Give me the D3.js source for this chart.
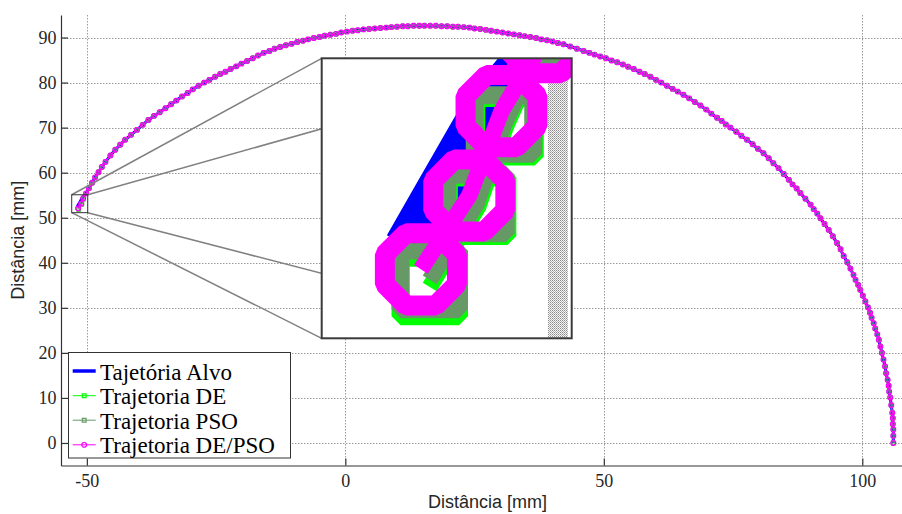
<!DOCTYPE html>
<html>
<head>
<meta charset="utf-8">
<script src="https://cdn.jsdelivr.net/npm/d3@7"></script>
<style>
  html, body { margin: 0; padding: 0; background: #fff; }
  svg { display: block; }
</style>
</head>
<body>
<svg id="chart" width="902" height="514"></svg>
<script>
// ---- data -------------------------------------------------------------
// End-effector trajectory (mm), one entry per sample / marker
const trajX = [
  -51.7,-51.1,-50.7,-50.15,-49.6,-49.0,-48.4,-47.75,-47.1,-46.4,
  -45.45,-44.5,-43.55,-42.6,-41.45,-40.3,-39.2,-38.1,-37.0,-35.9,
  -34.8,-33.7,-32.7,-31.6,-30.5,-29.5,-28.4,-27.3,-26.3,-25.2,
  -24.2,-23.2,-22.2,-21.1,-20.1,-19.0,-17.9,-16.9,-15.8,-14.7,
  -13.7,-12.6,-11.5,-10.4,-9.3,-8.2,-7.2,-6.1,-5.0,-4.0,
  -2.9,-1.8,-0.8,0.3,1.4,2.4,3.5,4.6,5.7,6.8,
  7.9,8.9,10.0,11.1,12.1,13.2,14.3,15.3,16.4,17.5,
  18.6,19.7,20.8,21.8,22.9,24.0,25.0,26.1,27.2,28.2,
  29.3,30.4,31.5,32.6,33.7,34.7,35.8,36.9,37.9,39.0,
  40.1,41.1,42.2,43.5,44.8,46.1,47.2,48.2,49.3,50.4,
  51.5,52.6,53.7,54.7,55.8,56.9,57.9,59.0,60.1,61.1,
  62.2,63.3,64.3,65.4,66.5,67.6,68.7,69.8,70.8,71.9,
  72.8,73.6,74.5,75.6,76.6,77.7,78.8,79.8,80.9,81.9,
  82.8,83.8,84.8,85.8,86.5,87.3,88.0,89.0,90.0,90.6,
  91.3,91.9,92.7,93.5,94.3,95.1,95.8,96.4,97.1,97.7,
  98.3,98.7,99.2,99.6,100.1,100.6,101.1,101.5,101.8,102.2,
  102.5,102.9,103.2,103.5,103.8,104.1,104.4,104.6,104.9,105.1,
  105.2,105.4,105.6,105.8,105.9,105.9,106.0,106.0,106.0
];
const trajY = [
  52.1,53.15,54.35,55.4,56.55,57.75,58.95,60.1,61.25,62.4,
  63.8,65.1,66.2,67.3,68.4,69.5,70.6,71.7,72.6,73.4,
  74.3,75.2,76.0,76.9,77.7,78.5,79.3,80.0,80.6,81.3,
  81.9,82.4,83.0,83.6,84.2,84.8,85.4,86.0,86.6,87.0,
  87.5,87.9,88.3,88.6,89.0,89.3,89.6,89.9,90.1,90.4,
  90.6,90.8,91.1,91.3,91.5,91.6,91.8,91.9,92.0,92.1,
  92.2,92.3,92.4,92.5,92.5,92.6,92.6,92.6,92.6,92.6,
  92.5,92.5,92.4,92.4,92.3,92.2,92.0,91.9,91.7,91.5,
  91.3,91.1,90.9,90.7,90.5,90.3,90.1,89.9,89.6,89.4,
  89.1,88.8,88.5,88.0,87.5,87.0,86.6,86.2,85.8,85.4,
  84.9,84.5,84.0,83.5,83.0,82.4,81.9,81.3,80.6,80.0,
  79.3,78.6,78.0,77.3,76.5,75.7,74.9,74.0,73.1,72.2,
  71.5,70.7,70.0,69.1,68.2,67.3,66.3,65.3,64.3,63.2,
  62.1,61.0,59.7,58.4,57.4,56.5,55.5,54.2,52.9,51.9,
  50.9,49.9,48.6,47.3,45.9,44.4,43.0,41.5,40.1,38.7,
  37.3,36.2,35.1,34.0,32.7,31.4,30.1,28.9,27.8,26.6,
  25.4,24.1,22.9,21.4,20.0,18.5,17.0,15.5,14.0,12.7,
  11.4,10.1,8.4,6.7,5.5,4.2,3.0,1.6,0.0
];

// First samples of each curve, where they separate from one another
const alvoStartX = [-51.87, -51.50, -50.90];
const alvoStartY = [52.42, 53.16, 54.36];
const deStartX   = [-51.59, -50.99, -50.65];
const deStartY   = [51.85, 52.99, 54.12];
const psoStartX  = [-51.59, -51.01, -50.67];
const psoStartY  = [51.95, 53.03, 54.16];

const xTicks = [-50, 0, 50, 100];
const yTicks = [0, 10, 20, 30, 40, 50, 60, 70, 80, 90];
const xDomain = [-55, 110];
const yDomain = [-5, 95];
const zoomX = [-52.93, -49.83];   // magnified window (mm)
const zoomY = [51.12, 55.1];

const seriesNames = ["Tajetória Alvo", "Trajetoria DE", "Trajetoria PSO", "Trajetoria DE/PSO"];
const axisTitle = "Distância [mm]";

// ---- helpers ----------------------------------------------------------
function buildSeries(startX, startY) {
  const pts = trajX.map((v, i) => [v, trajY[i]]);
  if (startX) startX.forEach((v, i) => { pts[i] = [v, startY[i]]; });
  return pts;
}
const alvo  = buildSeries(alvoStartX, alvoStartY);
const de    = buildSeries(deStartX, deStartY);
const pso   = buildSeries(psoStartX, psoStartY);
const dePso = buildSeries(null, null);

const COL = { alvo: "#0000ff", de: "#00ff00", pso: "#669966", depso: "#ff00ff" };

function octagonPath(r) {
  const p = d3.path();
  for (let k = 0; k < 8; k++) {
    const a = Math.PI / 8 + k * Math.PI / 4;
    const px = r * Math.cos(a), py = r * Math.sin(a);
    if (k === 0) p.moveTo(px, py); else p.lineTo(px, py);
  }
  p.closePath();
  return p.toString();
}
function squarePath(s) {
  const h = s / 2;
  return `M${-h},${-h}H${h}V${h}H${-h}Z`;
}
const OCT = octagonPath(2.5);
const SQ = squarePath(3.75);

// ---- layout -----------------------------------------------------------
const svg = d3.select("#chart");
const plot = { left: 61, right: 914, top: 15, bottom: 465.5 };
const x = d3.scaleLinear().domain(xDomain).range([plot.left, plot.right]);
const y = d3.scaleLinear().domain(yDomain).range([plot.bottom, plot.top]);

const defs = svg.append("defs");
const pat = defs.append("pattern").attr("id", "gridDots")
  .attr("width", 2).attr("height", 2).attr("patternUnits", "userSpaceOnUse");
pat.append("rect").attr("width", 2).attr("height", 2).attr("fill", "#f4f4f4");
pat.append("rect").attr("width", 1).attr("height", 1).attr("fill", "#8c8c8c");
pat.append("rect").attr("x", 1).attr("y", 1).attr("width", 1).attr("height", 1).attr("fill", "#b4b4b4");

// ---- grid -------------------------------------------------------------
const grid = svg.append("g")
  .attr("stroke", "#9a9a9a").attr("stroke-width", 1).attr("stroke-dasharray", "1.5 1.5");
grid.selectAll(".gx").data(xTicks).join("line")
  .attr("x1", d => Math.round(x(d)) + 0.5).attr("x2", d => Math.round(x(d)) + 0.5)
  .attr("y1", plot.top).attr("y2", plot.bottom);
grid.selectAll(".gy").data(yTicks).join("line")
  .attr("y1", d => Math.round(y(d)) + 0.5).attr("y2", d => Math.round(y(d)) + 0.5)
  .attr("x1", plot.left).attr("x2", plot.right);

// ---- series -----------------------------------------------------------
const line = d3.line().x(d => x(d[0])).y(d => y(d[1]));

function drawSeries(g) {
  g.append("path").datum(alvo).attr("d", line)
    .attr("fill", "none").attr("stroke", COL.alvo).attr("stroke-width", 3)
    .attr("stroke-linejoin", "round");

  const specs = [
    { data: de, color: COL.de, shape: SQ, w: 1.15 },
    { data: pso, color: COL.pso, shape: SQ, w: 1.15 },
    { data: dePso, color: COL.depso, shape: OCT, w: 1.28 }
  ];
  specs.forEach(s => {
    g.append("path").datum(s.data).attr("d", line)
      .attr("fill", "none").attr("stroke", s.color).attr("stroke-width", 1.05)
      .attr("stroke-linejoin", "round");
    g.append("g").selectAll("path").data(s.data).join("path")
      .attr("transform", d => `translate(${x(d[0])},${y(d[1])})`)
      .attr("d", s.shape)
      .attr("fill", "none").attr("stroke", s.color).attr("stroke-width", s.w)
      .attr("stroke-linejoin", "bevel");
  });
}
drawSeries(svg.append("g"));

// ---- axes -------------------------------------------------------------
function styleAxis(g) {
  g.attr("font-family", "'Liberation Serif', 'Times New Roman', serif").attr("font-size", 18);
  g.select(".domain").attr("stroke", "#333").attr("stroke-width", 1.2);
  g.selectAll(".tick line").attr("stroke", "#333").attr("stroke-width", 1.2);
  g.selectAll(".tick text").attr("fill", "#262626");
}
svg.append("g").attr("transform", `translate(${plot.left},0)`)
  .call(d3.axisLeft(y).tickValues(yTicks).tickFormat(d => String(d))
    .tickSizeInner(-7).tickSizeOuter(0).tickPadding(4.5))
  .call(styleAxis);
svg.append("g").attr("transform", `translate(0,${plot.bottom})`)
  .call(d3.axisBottom(x).tickValues(xTicks).tickFormat(d => String(d))
    .tickSizeInner(-7).tickSizeOuter(0).tickPadding(8.5))
  .call(styleAxis);

svg.append("text")
  .attr("x", (plot.left + plot.right) / 2).attr("y", 508)
  .attr("text-anchor", "middle")
  .attr("font-family", "'Liberation Sans', Arial, sans-serif").attr("font-size", 18)
  .attr("fill", "#262626").text(axisTitle);
svg.append("text")
  .attr("transform", `translate(24,${(plot.top + plot.bottom) / 2}) rotate(-90)`)
  .attr("text-anchor", "middle")
  .attr("font-family", "'Liberation Sans', Arial, sans-serif").attr("font-size", 18)
  .attr("fill", "#262626").text(axisTitle);

// ---- magnified view ---------------------------------------------------
const box = { x0: x(zoomX[0]), x1: x(zoomX[1]), y0: y(zoomY[1]), y1: y(zoomY[0]) };
const inset = { x: 321.7, y: 58.3, w: 250, h: 280 };
const kx = inset.w / (box.x1 - box.x0);
const ky = inset.h / (box.y1 - box.y0);

// connectors from the source box corners to the inset corners
const conn = [
  [box.x0, box.y0, inset.x, inset.y],
  [box.x1, box.y0, inset.x + inset.w, inset.y],
  [box.x0, box.y1, inset.x, inset.y + inset.h],
  [box.x1, box.y1, inset.x + inset.w, inset.y + inset.h]
];
svg.append("g").selectAll("line").data(conn).join("line")
  .attr("x1", d => d[0]).attr("y1", d => d[1]).attr("x2", d => d[2]).attr("y2", d => d[3])
  .attr("stroke", "#808080").attr("stroke-width", 1.5);
svg.append("rect")
  .attr("x", box.x0).attr("y", box.y0).attr("width", box.x1 - box.x0).attr("height", box.y1 - box.y0)
  .attr("fill", "none").attr("stroke", "#333").attr("stroke-width", 1);

defs.append("clipPath").attr("id", "insetClip").append("rect")
  .attr("x", inset.x).attr("y", inset.y).attr("width", inset.w).attr("height", inset.h);
const ig = svg.append("g").attr("clip-path", "url(#insetClip)");
ig.append("rect").attr("x", inset.x).attr("y", inset.y)
  .attr("width", inset.w).attr("height", inset.h).attr("fill", "#fff");
// magnified x = -50 grid line
xTicks.forEach(t => {
  const cx = inset.x + (x(t) - box.x0) * kx;
  if (cx > inset.x - 20 && cx < inset.x + inset.w + 20) {
    ig.append("rect").attr("x", cx - 10).attr("y", inset.y)
      .attr("width", 20).attr("height", inset.h).attr("fill", "url(#gridDots)");
  }
});
const zoomed = ig.append("g")
  .attr("transform", `translate(${inset.x - box.x0 * kx},${inset.y - box.y0 * ky}) scale(${kx},${ky})`);
drawSeries(zoomed);
svg.append("rect").attr("x", inset.x).attr("y", inset.y)
  .attr("width", inset.w).attr("height", inset.h)
  .attr("fill", "none").attr("stroke", "#3a3a3a").attr("stroke-width", 2);

// ---- legend -----------------------------------------------------------
const lg = svg.append("g");
lg.append("rect").attr("x", 68.5).attr("y", 352.5).attr("width", 222).attr("height", 105.5)
  .attr("fill", "#fff").attr("stroke", "#333").attr("stroke-width", 1);
const rowY = [371, 395.7, 420.2, 444.8];
const legendStyle = [
  { color: COL.alvo, w: 3.5, shape: null },
  { color: COL.de, w: 1, shape: SQ },
  { color: COL.pso, w: 1, shape: SQ },
  { color: COL.depso, w: 1, shape: OCT }
];
seriesNames.forEach((name, i) => {
  const st = legendStyle[i];
  const ry = rowY[i];
  lg.append("line").attr("x1", 72.7).attr("x2", 95.7).attr("y1", ry).attr("y2", ry)
    .attr("stroke", st.color).attr("stroke-width", st.w);
  if (st.shape) {
    lg.append("path").attr("d", st.shape).attr("transform", `translate(84.2,${ry})`)
      .attr("fill", "none").attr("stroke", st.color).attr("stroke-width", 1.2);
  }
  lg.append("text").attr("x", 100).attr("y", ry + 8.5)
    .attr("font-family", "'Liberation Serif', 'Times New Roman', serif").attr("font-size", 23)
    .attr("fill", "#000").text(name);
});
</script>
</body>
</html>
